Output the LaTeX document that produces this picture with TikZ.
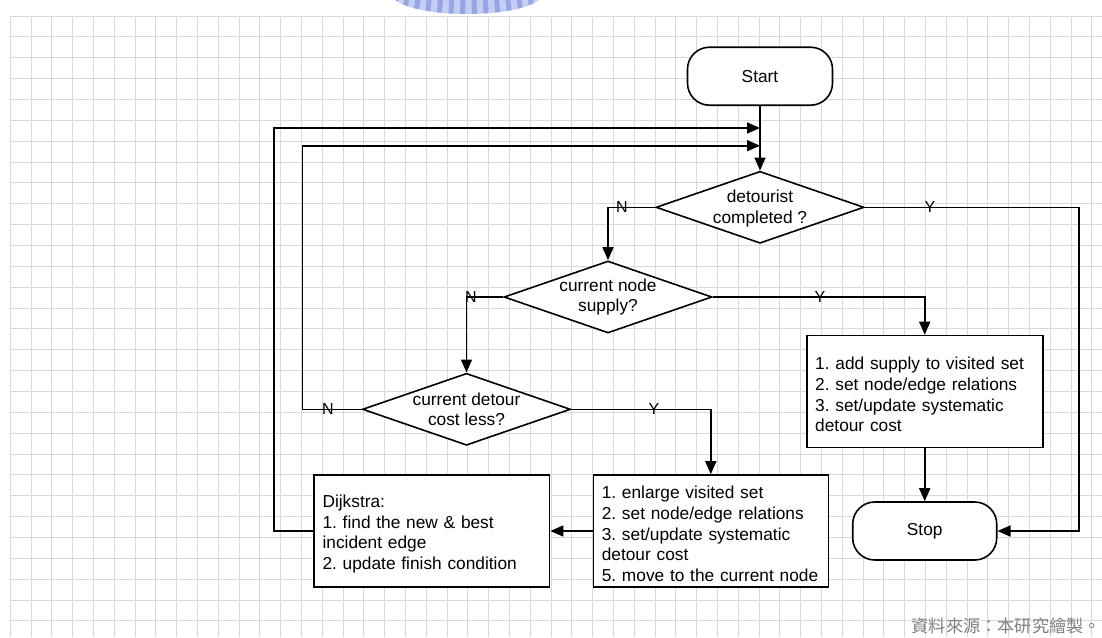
\documentclass[tikz,border=0pt]{standalone}
\usepackage{fontspec}
\setmainfont{Liberation Sans}
\newfontfamily\cjkfont{Noto Sans CJK TC}
\usetikzlibrary{arrows.meta,shapes.geometric}
\definecolor{gridc}{RGB}{216,216,216}
\definecolor{wmA}{RGB}{150,165,228}
\definecolor{wmB}{RGB}{196,205,243}
\definecolor{footc}{RGB}{128,128,128}
\newcommand{\bodyfont}{\fontsize{17.3}{20.8}\selectfont}
\newcommand{\labfont}{\fontsize{16}{18}\selectfont}
\newcommand{\topstrut}{\rule{0pt}{18.4pt}}
\frenchspacing
\tikzset{
  gridline/.style={draw=gridc, line width=1pt},
  flow/.style={draw=black, line width=1.6pt, -{Triangle[length=13pt,width=11pt]}},
  term/.style={draw=black, line width=1.6pt, fill=white, rectangle, rounded corners=22pt,
    minimum width=145pt, minimum height=58pt, font=\bodyfont, inner sep=0pt},
  dia/.style={draw=black, line width=1.6pt, fill=white, diamond, minimum width=208pt,
    minimum height=72pt, inner sep=0pt},
  diatext/.style={font=\bodyfont, align=center, inner sep=0pt},
  stepbox/.style={draw=black, line width=1.6pt, fill=white, rectangle, minimum width=236pt,
    minimum height=112pt, inner xsep=8.5pt, inner ysep=0pt, text width=219pt, align=left, font=\bodyfont},
  yn/.style={font=\labfont, inner sep=0pt},
}
\begin{document}
\begin{tikzpicture}[x=1pt,y=-1pt]
\useasboundingbox (0,0) rectangle (1102,637);
\fill[white] (0,0) rectangle (1102,637);
% grid
\foreach \k in {0,...,52} \draw[gridline] ({10.3+20.8*\k},16) -- ({10.3+20.8*\k},637);
\foreach \k in {0,...,29} \draw[gridline] (10.3,{16+20.86*\k}) -- (1102,{16+20.86*\k});
% watermark
\begin{scope}
  \clip (467,-6) ellipse [x radius=75, y radius=20];
  \fill[wmB] (380,-10) rectangle (560,20);
  \foreach \i in {0,...,13}
    \draw[wmA, line width=5pt] ({397+11*\i},-8) -- ({397+11*\i+(\i-6.5)*0.9},20);
\end{scope}
% nodes
\node[term] (start) at (760,76.2) {Start};
\node[dia] (d1) at (760,207.3) {};
\node[diatext] (d1t) at ([yshift=-1pt]d1.center) {detourist\\completed ?};
\node[dia] (d2) at (608,297) {};
\node[diatext] (d2t) at (d2.center) {current node\\supply?};
\node[dia] (d3) at (466.5,409.3) {};
\node[diatext] (d3t) at (d3.center) {current detour\\cost less?};
\node[stepbox] (sup) at (924.7,391.5) {\topstrut 1. add supply to visited set\\2. set node/edge relations\\3. set/update systematic\\detour cost};
\node[stepbox, minimum width=235pt, text width=218pt] (enl) at (710.8,531) {\topstrut 1. enlarge visited set\\2. set node/edge relations\\3. set/update systematic\\detour cost\\5. move to the current node};
\node[stepbox, minimum width=235.5pt, text width=218.5pt] (dij) at (431.8,531) {\topstrut Dijkstra:\\1. find the new \& best\\incident edge\\2. update finish condition};
\node[term, minimum width=144pt] (stop) at (924.7,531) {Stop};
% loop coordinates
\coordinate (lo) at (274,128);
\coordinate (mo) at (760,128);
\coordinate (li) at (302.5,145.7);
\coordinate (mi) at (760,145.7);
\coordinate (ry) at (1079,207.3);
% connectors
\draw[flow] (start.south) -- (d1.north);
\draw[flow] (d1.west) -| (d2.north);
\draw[flow] (d1.east) -- (ry) |- (stop.east);
\draw[flow] (d2.west) -| (d3.north);
\draw[flow] (d2.east) -| (sup.north);
\draw[flow] (sup.south) -- (stop.north);
\draw[flow] (d3.west) -| (li) -- (mi);
\draw[flow] (d3.east) -| (enl.north);
\draw[flow] (enl.west) -- (dij.east);
\draw[flow] (dij.west) -| (lo) -- (mo);
% labels
\node[yn] (n1) at (622,207.3) {N};
\node[yn] (y1) at (930,207.3) {Y};
\node[yn] (n2) at (471,297) {N};
\node[yn] (y2) at (820,297) {Y};
\node[yn] (n3) at (328,409.3) {N};
\node[yn] (y3) at (654,409.3) {Y};
% footer
\node[anchor=east, inner sep=0pt, text=footc, font={\cjkfont\fontsize{17.2}{20}\selectfont}] (foot) at (1101,625.5) {資料來源：本研究繪製。};
\end{tikzpicture}
\end{document}
